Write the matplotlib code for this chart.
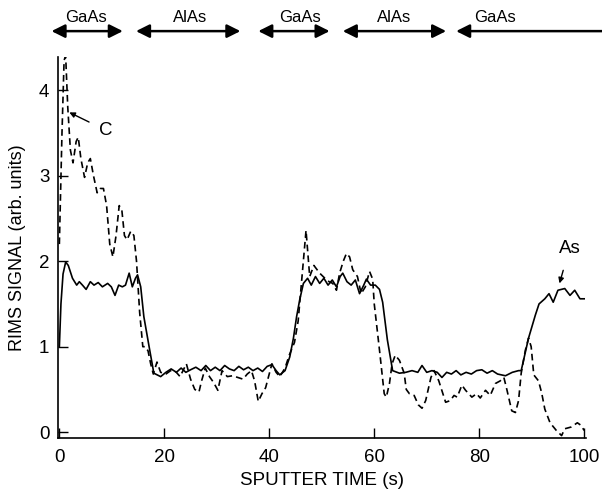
"""RIMS depth profile of a GaAs/AlAs stack: As and C signals versus sputter time."""

import matplotlib

matplotlib.use("Agg")
import matplotlib.pyplot as plt

# As signal (solid)
as_time = [0.0, 0.3, 0.7, 1.2, 1.7, 2.5, 3.3, 3.8, 4.4, 5.1, 5.9, 6.6, 7.4, 8.2,
           9.2, 9.9, 10.6, 11.3, 12.0, 12.6, 13.3, 13.9, 14.5, 14.9, 15.5, 16.1,
           17.1, 18.0, 19.3, 20.3, 21.3, 22.3, 23.2, 24.1, 25.0, 26.0, 27.0, 27.9,
           28.8, 29.7, 30.6, 31.5, 32.4, 33.3, 34.2, 35.1, 36.0, 36.9, 37.8, 38.7,
           39.6, 40.5, 41.3, 42.0, 43.0, 43.9, 44.6, 45.2, 45.8, 46.5, 47.3, 48.0,
           48.8, 49.6, 50.4, 51.2, 52.0, 52.8, 53.5, 54.0, 54.8, 55.6, 56.4, 57.2,
           58.0, 58.5, 59.3, 60.2, 61.0, 61.6, 62.5, 63.5, 64.8, 66.0, 67.2, 68.3,
           69.1, 70.0, 71.0, 72.0, 72.9, 73.8, 74.7, 75.6, 76.5, 77.5, 78.5, 79.5,
           80.5, 81.5, 82.5, 83.5, 85.0, 86.3, 87.5, 88.0, 89.4, 90.7, 91.4, 92.5,
           93.3, 94.1, 95.0, 96.3, 97.3, 98.2, 99.2, 100.0]
as_signal = [1.0, 1.5, 1.85, 1.99, 1.95, 1.8, 1.72, 1.76, 1.72, 1.67, 1.76, 1.72,
             1.75, 1.7, 1.74, 1.7, 1.6, 1.72, 1.7, 1.72, 1.86, 1.7, 1.8, 1.84,
             1.7, 1.35, 1.0, 0.69, 0.65, 0.7, 0.74, 0.7, 0.75, 0.7, 0.73, 0.76,
             0.72, 0.78, 0.72, 0.76, 0.72, 0.78, 0.74, 0.72, 0.77, 0.73, 0.76,
             0.72, 0.75, 0.71, 0.77, 0.79, 0.72, 0.67, 0.72, 0.88, 1.1, 1.35, 1.55,
             1.74, 1.8, 1.72, 1.82, 1.74, 1.8, 1.72, 1.78, 1.7, 1.82, 1.86, 1.76,
             1.72, 1.78, 1.62, 1.72, 1.79, 1.72, 1.72, 1.67, 1.52, 1.08, 0.72, 0.69,
             0.7, 0.72, 0.7, 0.78, 0.7, 0.72, 0.7, 0.64, 0.7, 0.68, 0.72, 0.67,
             0.7, 0.68, 0.72, 0.73, 0.69, 0.72, 0.68, 0.66, 0.7, 0.72, 0.72, 1.1,
             1.37, 1.5, 1.56, 1.62, 1.52, 1.66, 1.68, 1.6, 1.66, 1.56, 1.56]

# C signal (dashed)
c_time = [0.0, 0.5, 0.9, 1.2, 1.6, 2.1, 2.6, 3.2, 3.6, 4.1, 4.8, 5.4, 5.9, 6.5,
          7.2, 7.8, 8.4, 9.0, 9.6, 10.2, 10.8, 11.4, 11.9, 12.4, 12.9, 13.6, 14.2,
          14.7, 15.3, 15.9, 16.4, 16.9, 17.4, 17.9, 18.6, 19.3, 20.3, 21.2, 22.0,
          23.0, 24.2, 25.0, 25.8, 26.6, 27.1, 27.8, 28.6, 29.4, 30.2, 31.0, 32.0,
          33.0, 34.0, 35.0, 35.8, 36.6, 37.2, 37.9, 38.6, 39.3, 40.5, 41.3, 42.0,
          43.0, 43.8, 44.8, 45.5, 46.2, 47.0, 47.7, 48.5, 49.6, 50.6, 51.4, 52.1,
          52.8, 53.4, 54.1, 54.7, 55.3, 55.9, 56.8, 57.5, 58.3, 59.1, 59.7, 60.0,
          61.0, 61.9, 62.3, 62.9, 63.4, 64.0, 64.8, 65.7, 66.1, 66.7, 67.6, 68.4,
          69.1, 69.8, 70.8, 71.4, 72.3, 73.6, 74.5, 75.2, 75.8, 76.7, 77.4, 78.6,
          79.5, 80.2, 81.2, 82.1, 83.1, 84.0, 84.7, 85.3, 86.2, 86.9, 87.5, 88.0,
          88.8, 89.4, 89.9, 90.4, 91.3, 91.9, 92.5, 93.5, 94.7, 95.7, 96.3, 97.5,
          98.7, 99.4, 100.0]
c_signal = [2.2, 3.5, 4.35, 4.4, 3.8, 3.3, 3.15, 3.4, 3.45, 3.2, 2.98, 3.15, 3.2,
            3.0, 2.8, 2.85, 2.85, 2.65, 2.2, 2.05, 2.3, 2.65, 2.6, 2.3, 2.25, 2.35,
            2.3, 2.0, 1.4, 1.0, 1.0, 0.95, 0.8, 0.68, 0.82, 0.7, 0.68, 0.72, 0.72,
            0.65, 0.8, 0.62, 0.5, 0.47, 0.6, 0.75, 0.65, 0.58, 0.49, 0.72, 0.65,
            0.66, 0.64, 0.62, 0.68, 0.72, 0.6, 0.36, 0.45, 0.52, 0.8, 0.7, 0.65,
            0.75, 0.9, 1.05, 1.3, 1.8, 2.36, 1.82, 1.95, 1.86, 1.8, 1.76, 1.74,
            1.66, 1.86, 2.0, 2.09, 2.05, 1.9, 1.82, 1.62, 1.7, 1.88, 1.79, 1.5,
            0.96, 0.45, 0.41, 0.57, 0.8, 0.9, 0.84, 0.69, 0.5, 0.45, 0.43, 0.32,
            0.28, 0.37, 0.64, 0.72, 0.6, 0.35, 0.37, 0.43, 0.41, 0.55, 0.49, 0.41,
            0.45, 0.4, 0.49, 0.43, 0.57, 0.6, 0.64, 0.49, 0.25, 0.23, 0.37, 0.69,
            0.96, 1.1, 1.0, 0.67, 0.6, 0.46, 0.27, 0.11, 0.02, -0.04, 0.04, 0.06,
            0.11, 0.08, 0.02]

# layer bar across the top (sputter time of arrow ends, label centres)
layer_names = ["GaAs", "AlAs", "GaAs", "AlAs", "GaAs"]
layer_start = [-1.5, 14.6, 37.9, 54.0, 75.6]
layer_end = [12.1, 34.5, 51.5, 73.7, 104.0]
layer_label_x = [5.1, 25.0, 45.8, 63.8, 83.0]

plt.rcParams["font.family"] = ["Liberation Sans", "DejaVu Sans"]

fig = plt.figure(figsize=(6.02, 4.94), dpi=100)
ax = fig.add_axes([0.096, 0.113, 0.877, 0.772])

ax.plot(as_time, as_signal, color="black", lw=1.2, solid_joinstyle="round")
ax.plot(c_time, c_signal, color="black", lw=1.2, linestyle=(0, (4, 2.5)))

ax.set_xlim(-0.3, 100.3)
ax.set_ylim(-0.07, 4.39)
ax.set_xticks([0, 20, 40, 60, 80, 100])
ax.set_yticks([0, 1, 2, 3, 4])
ax.tick_params(direction="in", length=7, width=1, labelsize=13.5)
ax.tick_params(axis="x", pad=8)
ax.tick_params(axis="y", pad=6)
for side in ("top", "right"):
    ax.spines[side].set_visible(False)
for side in ("left", "bottom"):
    ax.spines[side].set_linewidth(1.2)

ax.set_xlabel("SPUTTER TIME (s)", fontsize=13.5, labelpad=4)
ax.set_ylabel("RIMS SIGNAL (arb. units)", fontsize=13, labelpad=9)

# peak labels
ax.annotate("C", xy=(1.9, 3.74), xytext=(8.9, 3.53), fontsize=13.5,
            ha="center", va="center",
            arrowprops=dict(arrowstyle="-|>", color="black", lw=1,
                            shrinkA=6, shrinkB=0, mutation_scale=8))
ax.annotate("As", xy=(95.3, 1.74), xytext=(97.2, 2.15), fontsize=13.5,
            ha="center", va="center",
            arrowprops=dict(arrowstyle="-|>", color="black", lw=1,
                            shrinkA=8, shrinkB=0, mutation_scale=8))

# layer arrows above the plot
trans = ("data", "figure fraction")
for name, x0, x1, xl in zip(layer_names, layer_start, layer_end, layer_label_x):
    style = "<|-|>" if x1 < 100 else "<|-"
    ax.annotate("", xy=(x1, 0.937), xytext=(x0, 0.937), xycoords=trans,
                textcoords=trans, annotation_clip=False,
                arrowprops=dict(arrowstyle=style, color="black", lw=1.8,
                                shrinkA=0, shrinkB=0, mutation_scale=20))
    ax.annotate(name, xy=(xl, 0.964), xycoords=trans, ha="center",
                va="center", fontsize=12, annotation_clip=False)

fig.savefig("out.png", dpi=100)
